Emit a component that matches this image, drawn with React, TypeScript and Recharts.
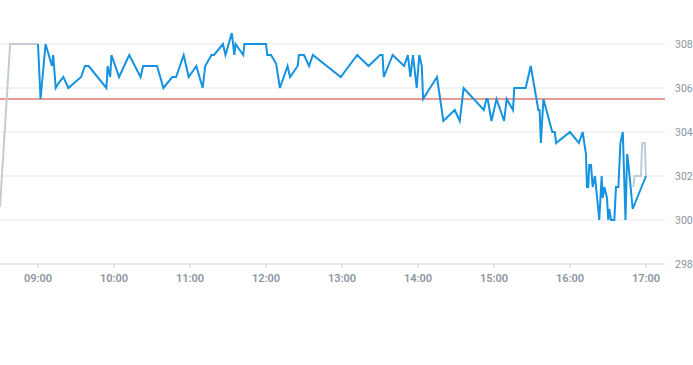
import {
  ComposedChart,
  Line,
  XAxis,
  YAxis,
  ReferenceLine,
} from 'recharts';

// regular session
const sessionTimes = [
  '09:00', '09:02', '09:06', '09:11', '09:12', '09:14', '09:16', '09:20', '09:24', '09:34',
  '09:37', '09:40', '09:54', '09:55', '09:57', '09:58', '10:04', '10:12', '10:21', '10:23',
  '10:34', '10:39', '10:46', '10:49', '10:55', '10:59', '11:05', '11:10', '11:12', '11:17',
  '11:19', '11:26', '11:28', '11:33', '11:35', '11:36', '11:42', '11:43', '12:00', '12:01',
  '12:04', '12:08', '12:11', '12:17', '12:19', '12:25', '12:26', '12:30', '12:34', '12:37',
  '12:59', '13:12', '13:21', '13:30', '13:32', '13:33', '13:40', '13:49', '13:52', '13:54',
  '13:56', '13:59', '14:01', '14:03', '14:04', '14:15', '14:20', '14:29', '14:33', '14:36',
  '14:52', '14:54', '14:55', '14:58', '15:02', '15:08', '15:10', '15:15', '15:16', '15:25',
  '15:29', '15:32', '15:35', '15:36', '15:37', '15:39', '15:46', '15:48', '15:49', '16:00',
  '16:07', '16:10', '16:12:36', '16:13:24', '16:14:24', '16:15:12', '16:16:36', '16:17:54',
  '16:19:42', '16:23:06', '16:25:00', '16:25:48', '16:27:06', '16:29:12', '16:30:12',
  '16:31:00', '16:32:24', '16:35:00', '16:36:18', '16:38:12', '16:39:48', '16:41:42',
  '16:43:48', '16:45:06', '16:46:12', '16:49:30', '17:00',
];
const sessionPrices = [
  308, 305.5, 308, 307, 307.5, 306, 306.2, 306.5, 306, 306.5,
  307, 307, 306, 307, 306.5, 307.5, 306.5, 307.5, 306.5, 307,
  307, 306, 306.5, 306.5, 307.5, 306.5, 307, 306, 307, 307.5,
  307.5, 308, 307.5, 308.5, 307.5, 308, 307.5, 308, 308, 307.5,
  307.5, 307.1, 306, 307, 306.5, 307, 307.5, 307.5, 307, 307.5,
  306.5, 307.5, 307, 307.5, 307.5, 306.5, 307.5, 307, 307.5, 306.5,
  307.5, 306, 307.5, 307, 305.5, 306.5, 304.5, 305, 304.5, 306,
  305, 305.5, 305.5, 304.5, 305.5, 304.5, 305.5, 305, 306, 306,
  307, 306, 305, 305, 303.5, 305.5, 304, 304, 303.5, 304,
  303.5, 304, 303, 301.5, 301.5, 302.5, 302.5, 301.5,
  302, 300, 302, 301, 301.5, 301, 300,
  300.5, 300, 300, 301.5, 301.5, 303.5, 304,
  300, 303, 302.5, 300.5, 302,
];

// extended hours
const preTimes = ['08:30', '08:38', '09:00'];
const prePrices = [300.6, 308, 308];
const postTimes = ['16:50', '16:51', '16:56', '16:57', '16:59', '17:00'];
const postPrices = [301.5, 302, 302, 303.5, 303.5, 302];

const prevClose = 305.5;
const xTicks = ['09:00', '10:00', '11:00', '12:00', '13:00', '14:00', '15:00', '16:00', '17:00'];
const yTicks = [298, 300, 302, 304, 306, 308];

const toMin = (s: string) => {
  const [h, m, sec] = s.split(':').map(Number);
  return h * 60 + m + (sec || 0) / 60;
};
const fmt = (v: number) => {
  const h = Math.floor(v / 60);
  const m = Math.round(v % 60);
  return `${String(h).padStart(2, '0')}:${String(m).padStart(2, '0')}`;
};
const build = (times: string[], prices: number[]) =>
  times.map((t, i) => ({ t: toMin(t), price: prices[i] }));

const session = build(sessionTimes, sessionPrices);
const pre = build(preTimes, prePrices);
const post = build(postTimes, postPrices);

const tickStyle = { fontSize: 11, fill: '#8a949f', fontFamily: 'Roboto, sans-serif' };

export default function App() {
  return (
    <div style={{ position: 'absolute', left: 0, top: 0, background: '#fff' }}>
      <ComposedChart width={693} height={365} margin={{ top: 22, right: 0, left: 0, bottom: 71 }}>
        <XAxis
          type="number"
          dataKey="t"
          domain={[toMin('08:30'), toMin('17:15')]}
          ticks={xTicks.map(toMin)}
          tickFormatter={fmt}
          allowDataOverflow
          stroke="#cfd5db"
          tickSize={4}
          tickMargin={6}
          tick={{ ...tickStyle, fontWeight: 600 }}
          height={30}
        />
        <YAxis
          orientation="right"
          domain={[298, 309]}
          ticks={yTicks}
          allowDataOverflow
          axisLine={false}
          tickLine={false}
          tickMargin={4}
          tick={{ ...tickStyle, fontSize: 10.5 }}
          width={28}
        />
        {/* horizontal grid only at the labelled prices */}
        {yTicks.slice(1).map((v) => (
          <ReferenceLine key={v} y={v} stroke="#e3e7eb" strokeWidth={1} />
        ))}
        <ReferenceLine y={prevClose} stroke="#d6342a" strokeWidth={1} />
        <Line
          data={pre}
          dataKey="price"
          type="linear"
          stroke="#c3ccd4"
          strokeWidth={2}
          dot={false}
          isAnimationActive={false}
        />
        <Line
          data={post}
          dataKey="price"
          type="linear"
          stroke="#c3ccd4"
          strokeWidth={2}
          dot={false}
          isAnimationActive={false}
        />
        <Line
          data={session}
          dataKey="price"
          type="linear"
          stroke="#1592e0"
          strokeWidth={2}
          dot={false}
          isAnimationActive={false}
        />
      </ComposedChart>
    </div>
  );
}
